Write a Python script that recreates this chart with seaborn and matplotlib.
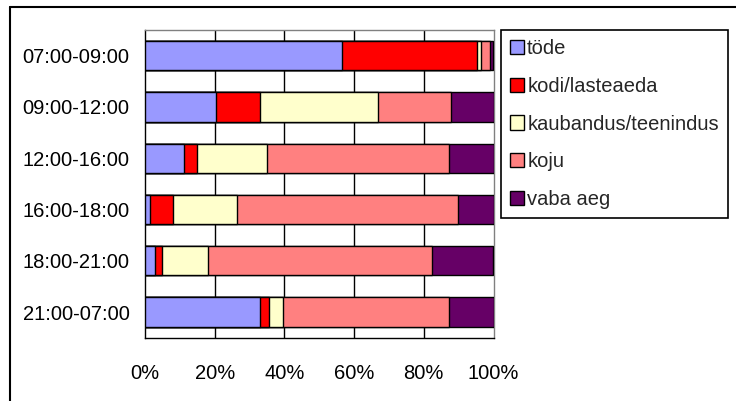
import numpy as np
import pandas as pd
import seaborn as sns
import matplotlib
matplotlib.use('Agg')
import matplotlib.pyplot as plt
from matplotlib.patches import Patch
from matplotlib.lines import Line2D

categories = ["07:00-09:00", "09:00-12:00", "12:00-16:00",
              "16:00-18:00", "18:00-21:00", "21:00-07:00"]
series = ["töde", "kodi/lasteaeda", "kaubandus/teenindus", "koju", "vaba aeg"]
tode = [56.5, 20.5, 11.1, 1.5, 2.8, 33.1]
kodi = [38.8, 12.6, 3.8, 6.5, 2.1, 2.5]
kaubandus = [1.2, 33.9, 20.1, 18.4, 13.2, 3.9]
koju = [2.4, 20.9, 52.2, 63.4, 64.2, 47.7]
vaba = [1.1, 12.1, 12.8, 10.2, 17.7, 12.8]
xticks = [0, 20, 40, 60, 80, 100]
xticklabels = ["0%", "20%", "40%", "60%", "80%", "100%"]

colors = ["#9999FF", "#FF0000", "#FFFFCC", "#FF8080", "#660066"]

sns.set_style("white")
plt.rcParams['font.family'] = ['Liberation Sans', 'DejaVu Sans']

df = pd.DataFrame(np.array([tode, kodi, kaubandus, koju, vaba]).T,
                  index=categories, columns=series)
# 100% stacked
df = df.div(df.sum(axis=1), axis=0) * 100
cum = df.cumsum(axis=1)

fig = plt.figure(figsize=(7.36, 4.01), dpi=100)
ax = fig.add_axes([145 / 736, 1 - 337.7 / 401, 348.5 / 736, 307.7 / 401])

# draw from the widest cumulative bar to the narrowest so they stack
for name, col in reversed(list(zip(series, colors))):
    sns.barplot(x=cum[name].values, y=categories, orient='h', color=col,
                saturation=1, edgecolor='black', linewidth=1.0, width=0.57,
                errorbar=None, ax=ax, zorder=3)

for v in xticks[1:-1]:
    ax.axvline(v, color='black', lw=1.0, zorder=0)

ax.set_xlim(0, 100)
ax.set_ylim(len(categories) - 0.5, -0.5)
ax.set_xlabel('')
ax.set_ylabel('')
ax.set_xticks(xticks)
ax.set_xticklabels(xticklabels, fontsize=14.5)
ax.set_yticks(range(len(categories)))
ax.set_yticklabels(categories, fontsize=14.5)
ax.set_yticks(np.arange(-0.5, len(categories), 1), minor=True)
ax.tick_params(axis='y', which='major', length=0, pad=11)
ax.tick_params(axis='y', which='minor', length=7.5, width=1, color='black', direction='out')
ax.tick_params(axis='x', which='major', length=5, width=1, color='black', direction='out', pad=14)
ax.tick_params(colors='black')

for s in ['left', 'bottom']:
    ax.spines[s].set_color('black')
    ax.spines[s].set_linewidth(1.0)
for s in ['top', 'right']:
    ax.spines[s].set_color('#808080')
    ax.spines[s].set_linewidth(1.0)

handles = [Patch(facecolor=c, edgecolor='black', linewidth=1.0) for c in colors]
leg = fig.legend(handles, series, loc='upper left',
                 bbox_to_anchor=(501 / 736, 1 - 30 / 401),
                 bbox_transform=fig.transFigure, borderaxespad=0,
                 fontsize=14.5, frameon=True, fancybox=False, framealpha=1,
                 edgecolor='black', handlelength=0.7, handleheight=0.7,
                 handletextpad=0.15, labelspacing=0.93, borderpad=0.45)
leg.get_frame().set_linewidth(1.2)

# outer chart border (top and left visible)
fig.add_artist(Line2D([10 / 736, 10 / 736], [0, 1 - 7 / 401], color='black',
                      lw=1.5, transform=fig.transFigure))
fig.add_artist(Line2D([10 / 736, 1], [1 - 7 / 401, 1 - 7 / 401], color='black',
                      lw=1.5, transform=fig.transFigure))

fig.savefig('out.png', dpi=100, facecolor='white')
